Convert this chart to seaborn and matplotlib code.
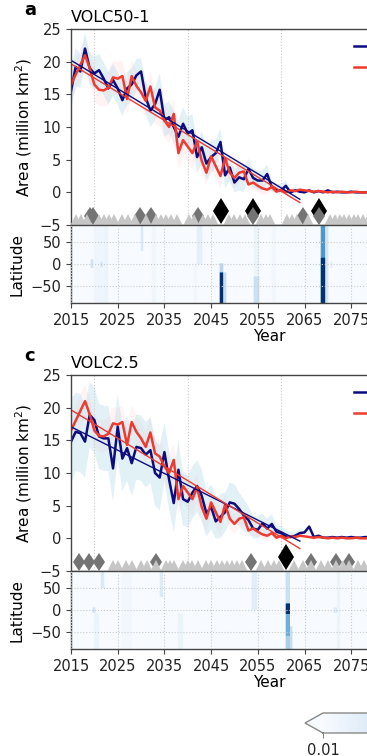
import numpy as np
import pandas as pd
import matplotlib
matplotlib.use("Agg")
import matplotlib.pyplot as plt
import seaborn as sns
from matplotlib.lines import Line2D
from matplotlib.colors import Normalize

# ---------------- data ----------------
years = list(range(2015, 2101))

blue_a = [15.5, 19.2, 18.5, 22.0, 19.0, 18.2, 18.7, 17.4, 15.9, 17.2,
          15.9, 14.1, 15.9, 16.5, 17.9, 18.5, 14.5, 12.5, 13.5, 15.7,
          11.0, 11.5, 10.0, 8.5, 10.5, 9.0, 9.5, 5.4, 6.9, 4.4,
          5.4, 6.0, 7.7, 2.6, 3.8, 1.5, 2.3, 2.0, 3.6, 2.2,
          1.8, 1.8, 2.8, 0.8, 0.3, 0.3, 1.0, 0.0, 0.3, 0.1,
          0.0, 0.3, 0.0, 0.2, 0.0, 0.3, 0.0, 0.1, 0.0, 0.0,
          0.1, 0.0, 0.0, 0.0, 0.1, 0.0, 0.0, 0.0, 0.0, 0.0,
          0.0, 0.0, 0.0, 0.0, 0.0, 0.0, 0.0, 0.0, 0.0, 0.0,
          0.0, 0.0, 0.0, 0.0, 0.0, 0.0]

blue_c = [14.8, 16.3, 16.1, 14.8, 18.9, 18.1, 15.6, 15.3, 15.3, 10.7,
          17.1, 12.2, 13.8, 11.5, 14.0, 13.8, 12.8, 13.5, 10.0, 9.3,
          13.2, 9.0, 5.4, 10.5, 6.0, 5.6, 7.0, 8.0, 6.5, 3.8,
          4.8, 2.6, 3.3, 4.0, 5.5, 5.3, 4.5, 3.5, 2.8, 1.5,
          1.3, 2.3, 1.5, 2.2, 1.0, 0.8, 0.3, 0.2, 0.4, 0.8,
          0.9, 1.8, 0.2, 0.4, 0.1, 0.1, 0.2, 0.1, 0.2, 0.1,
          0.2, 0.1, 0.1, 0.2, 0.1, 0.0, 0.0, 0.0, 0.0, 0.0,
          0.0, 0.0, 0.0, 0.0, 0.0, 0.0, 0.0, 0.0, 0.0, 0.0,
          0.0, 0.0, 0.0, 0.0, 0.0, 0.0]

red_ref = [16.5, 18.0, 19.5, 21.0, 19.0, 16.5, 15.7, 15.6, 16.0, 17.6,
           17.4, 17.8, 14.3, 17.8, 16.3, 15.3, 14.0, 16.2, 13.0, 12.5,
           11.0, 10.0, 12.0, 6.0, 8.0, 7.0, 6.0, 7.8, 4.8, 3.0,
           5.5, 4.0, 2.5, 5.2, 3.0, 2.2, 3.0, 3.2, 1.2, 1.5,
           1.0, 0.6, 0.4, 0.8, 0.1, 0.4, 0.0, 0.3, 0.2, 0.4,
           0.3, 0.2, 0.1, 0.2, 0.1, 0.0, 0.1, 0.0, 0.1, 0.0,
           0.0, 0.1, 0.0, 0.0, 0.0, 0.0, 0.0, 0.0, 0.0, 0.0,
           0.0, 0.0, 0.0, 0.0, 0.0, 0.0, 0.0, 0.0, 0.0, 0.0,
           0.0, 0.0, 0.0, 0.0, 0.0, 0.0]

# ensemble spread (half-width), 2015-2064, then zero
spread_blue_a = [3.0, 3.0, 2.5, 2.5, 2.5, 2.5, 2.5, 2.5, 2.5, 2.5,
                 2.5, 2.5, 2.5, 2.5, 2.5, 2.0, 2.5, 2.5, 2.5, 2.5,
                 2.5, 2.5, 2.5, 2.5, 2.5, 2.5, 2.5, 2.5, 2.5, 2.5,
                 2.5, 2.0, 2.0, 2.0, 2.0, 2.0, 2.0, 2.0, 1.5, 1.5,
                 1.5, 1.5, 1.5, 1.0, 1.0, 1.0, 0.8, 0.5, 0.5, 0.3] + [0.0] * 36
spread_blue_c = [6.5, 6.0, 6.0, 5.5, 5.0, 5.0, 5.0, 5.0, 5.0, 5.0,
                 5.0, 5.0, 5.0, 5.0, 5.0, 5.0, 5.0, 5.0, 5.0, 5.0,
                 4.5, 4.5, 4.5, 4.5, 4.0, 4.0, 4.0, 4.0, 4.0, 3.5,
                 3.5, 3.5, 3.5, 3.0, 3.0, 3.0, 2.5, 2.5, 2.0, 2.0,
                 2.0, 1.5, 1.5, 1.5, 1.0, 1.0, 1.0, 0.8, 0.5, 0.5] + [0.0] * 36
spread_red = [2.5, 2.5, 2.5, 2.5, 2.5, 2.5, 2.5, 2.5, 2.5, 2.5,
              2.5, 2.5, 2.5, 2.5, 2.5, 2.5, 2.5, 2.5, 2.5, 2.5,
              2.5, 2.5, 2.5, 2.5, 2.5, 2.5, 2.5, 2.0, 2.0, 2.0,
              2.0, 2.0, 2.0, 1.5, 1.5, 1.5, 1.5, 1.0, 1.0, 1.0,
              1.0, 0.8, 0.8, 0.5, 0.5, 0.5, 0.3, 0.3, 0.3, 0.3] + [0.0] * 36

fit_data_end = 2068   # years used for the linear trend
fit_show_end = 2064   # years over which the trend is drawn

# eruption markers (year positions)
light_a = [2016.0, 2017.2, 2018.4, 2021.1, 2022.1, 2023.2, 2024.3, 2026.0, 2027.1,
           2028.6, 2031.0, 2033.2, 2034.3, 2035.3, 2036.4, 2037.8, 2040.2, 2041.4,
           2043.2, 2044.3, 2045.3, 2048.9, 2050.0, 2051.1, 2052.2, 2055.7, 2056.7,
           2057.7, 2061.3, 2062.3, 2063.3, 2065.8, 2070.5, 2071.5, 2072.5, 2073.5,
           2074.5, 2075.5, 2076.5, 2077.5, 2078.5, 2080, 2081, 2082, 2083, 2085,
           2086, 2087, 2089, 2090, 2092, 2093, 2095, 2096, 2098, 2099]
dark_a = [2019.0, 2019.8, 2029.8, 2032.1, 2042.1, 2053.9, 2064.6, 2068.0]
black_a = [2047.1, 2053.9, 2068.0]

light_c = [2023.9, 2025.0, 2026.8, 2028.0, 2030.0, 2031.2, 2033.1, 2035.3, 2036.2,
           2037.1, 2038.9, 2040.0, 2041.0, 2042.1, 2043.9, 2045.0, 2046.3, 2047.4,
           2048.5, 2049.5, 2050.6, 2051.7, 2055.7, 2057.1, 2058.5, 2059.6, 2062.8,
           2064.6, 2066.4, 2068.5, 2070.0, 2071.8, 2073.2, 2074.6, 2076.4, 2077.8,
           2079, 2080, 2081, 2083, 2084, 2086, 2087, 2089, 2090, 2092, 2094, 2095,
           2097, 2099]
dark_c = [2016.8, 2018.9, 2021.1, 2033.1, 2053.5, 2066.4, 2071.8, 2074.6]
black_c = [2061.0]

# aerosol plumes for the latitude-time panels: start, duration, lat_lo, lat_hi, value
plume_start_a = [2046.8, 2046.8, 2047.6, 2068.6, 2068.6, 2069.5, 2054.2, 2054.2,
                 2019.3, 2020.0, 2021.3, 2030.0, 2032.5, 2042.0, 2058.0, 2070.5,
                 2022.0, 2041.5]
plume_dur_a = [0.8, 0.8, 0.6, 0.9, 0.9, 0.6, 1.0, 1.0,
               0.5, 2.5, 0.5, 0.5, 0.8, 1.0, 1.0, 0.5, 1.0, 0.5]
plume_lo_a = [-90, -20, -90, -90, 15, -90, -90, -30, -10, -90, -5, 30, -90, 0, -90, -10,
              -90, -90]
plume_hi_a = [-20, 0, -20, 15, 90, 90, -30, 90, 10, 90, 5, 90, 90, 90, 90, 5, 90, 0]
plume_val_a = [1.0, 0.3, 0.25, 1.0, 0.6, 0.18, 0.22, 0.07,
               0.2, 0.06, 0.15, 0.15, 0.05, 0.1, 0.04, 0.08, 0.07, 0.04]

plume_start_c = [2061.0, 2061.0, 2061.0, 2061.8, 2019.8, 2020.0, 2021.5, 2034.0,
                 2038.0, 2053.8, 2071.5, 2072.0, 2026.0, 2061.0]
plume_dur_c = [0.8, 0.8, 0.8, 0.6, 0.5, 1.0, 0.6, 0.6, 1.0, 1.0, 0.5, 0.6, 2.0, 0.8]
plume_lo_c = [-10, -60, 15, -90, -5, -90, 50, 30, -90, 0, -5, -90, -90, -90]
plume_hi_c = [15, -10, 90, -40, 5, -10, 90, 90, -10, 90, 5, 90, 90, -60]
plume_val_c = [1.0, 0.5, 0.22, 0.25, 0.2, 0.07, 0.15, 0.14, 0.07, 0.12, 0.14, 0.07,
               0.04, 0.35]

titles = ["VOLC50-1", "VOLC2.5"]
letters = ["a", "c"]
legend_labels = ["VOLC", "SSP2-4.5"]
cbar_ticks = [0.01, 0.5, 1.0]

# ---------------- style ----------------
plt.rcParams.update({
    "font.family": ["DejaVu Sans"],
    "axes.edgecolor": "#444444",
    "axes.linewidth": 1.0,
    "xtick.color": "#444444",
    "ytick.color": "#444444",
    "xtick.labelcolor": "#222222",
    "ytick.labelcolor": "#222222",
    "xtick.labelsize": 10.5,
    "ytick.labelsize": 10.5,
})

NAVY = "#0c0c7f"
RED = "#ef3a2f"

W, H = 367, 756
fig = plt.figure(figsize=(W / 100, H / 100), dpi=100)


def fx(px):
    return px / W


def fy(py):
    return 1 - py / H


ppy = 4.67
ax_left = 71
ax_width = 85 * ppy

cmap = plt.get_cmap("Blues").copy()
cmap.set_under("#f7fbff")
norm = Normalize(vmin=0.01, vmax=1.0)

panels = [
    dict(blue=blue_a, sb=spread_blue_a, light=light_a, dark=dark_a, black=black_a,
         ps=plume_start_a, pd_=plume_dur_a, plo=plume_lo_a, phi=plume_hi_a, pv=plume_val_a,
         top=29, mid=225, bot=303),
    dict(blue=blue_c, sb=spread_blue_c, light=light_c, dark=dark_c, black=black_c,
         ps=plume_start_c, pd_=plume_dur_c, plo=plume_lo_c, phi=plume_hi_c, pv=plume_val_c,
         top=375, mid=571, bot=649),
]

t_edges = np.arange(2015, 2100.01, 0.2)
lat_edges = np.arange(-90, 90.01, 2)
t_c = 0.5 * (t_edges[:-1] + t_edges[1:])
lat_c = 0.5 * (lat_edges[:-1] + lat_edges[1:])

mesh = None
for i, p in enumerate(panels):
    df = pd.DataFrame({"year": years, "blue": p["blue"], "red": red_ref,
                       "sb": p["sb"], "sr": spread_red})
    ax = fig.add_axes([fx(ax_left), fy(p["mid"]), ax_width / W, (p["mid"] - p["top"]) / H])

    ax.fill_between(df["year"], df["red"] - df["sr"], df["red"] + df["sr"],
                    color="#ffd0d4", alpha=0.25, lw=0)
    ax.fill_between(df["year"], (df["blue"] - df["sb"]).clip(lower=0), df["blue"] + df["sb"],
                    color="#add8e6", alpha=0.35, lw=0)

    sns.lineplot(data=df, x="year", y="blue", color=NAVY, lw=1.8, ax=ax)
    sns.lineplot(data=df, x="year", y="red", color=RED, lw=1.8, ax=ax)

    # linear trends
    dfit = df[df["year"] <= fit_data_end]
    show = df[df["year"] <= fit_show_end][["year"]].copy()
    for col, colr in (("blue", NAVY), ("red", RED)):
        k, b = np.polyfit(dfit["year"], dfit[col], 1)
        show[col + "_fit"] = k * show["year"] + b
        sns.lineplot(data=show, x="year", y=col + "_fit", color=colr, lw=1.0, ax=ax)

    # eruption markers
    ax.plot(p["black"], [-2.9] * len(p["black"]), ls="none", marker="d", ms=13,
            color="black", mew=0, zorder=5)
    ax.plot(p["dark"], [-3.55] * len(p["dark"]), ls="none", marker="d", ms=9.5,
            color="#747474", mew=0, zorder=6)
    ax.plot(p["light"], [-4.2] * len(p["light"]), ls="none", marker="^", ms=8,
            color="#c6c6c6", mew=0, zorder=7)

    ax.set_xlim(2015, 2100)
    ax.set_ylim(-5, 25)
    ax.set_yticks([-5, 0, 5, 10, 15, 20, 25])
    ax.set_yticks([0, 10, 20], minor=True)
    ax.set_xticks([])
    ax.set_xticks([2020, 2040, 2060, 2080], minor=True)
    ax.tick_params(axis="x", which="both", length=0, labelbottom=False)
    ax.tick_params(axis="y", which="minor", length=0)
    ax.grid(which="minor", ls=":", color="#cccccc", lw=0.8)
    ax.set_xlabel("")
    ax.set_ylabel("Area (million km$^2$)", fontsize=11)
    ax.set_title(titles[i], loc="left", fontsize=11.5, pad=5)

    handles = [Line2D([], [], color=NAVY, lw=1.8), Line2D([], [], color=RED, lw=1.8)]
    ax.legend(handles, legend_labels, loc="upper left", bbox_to_anchor=(0.713, 0.947),
              frameon=False, borderpad=0, borderaxespad=0, handlelength=2.0,
              fontsize=10, labelspacing=0.55)

    fig.text(fx(30), fy(p["top"] - 19), letters[i], fontweight="bold", fontsize=13,
             ha="center", va="center")

    # latitude-time field
    Z = np.zeros((len(lat_c), len(t_c)))
    for s, d, lo, hi, v in zip(p["ps"], p["pd_"], p["plo"], p["phi"], p["pv"]):
        tm = (t_c >= s) & (t_c < s + d)
        lm = (lat_c >= lo) & (lat_c < hi)
        Z[np.ix_(lm, tm)] = np.maximum(Z[np.ix_(lm, tm)], v)
    Zs = Z.copy()
    Zs[:, 1:] = np.maximum(Zs[:, 1:], 0.4 * Z[:, :-1])
    Zs[:, :-1] = np.maximum(Zs[:, :-1], 0.4 * Z[:, 1:])
    Zs[1:, :] = np.maximum(Zs[1:, :], 0.7 * Zs[:-1, :])

    ax2 = fig.add_axes([fx(ax_left), fy(p["bot"]), ax_width / W, (p["bot"] - p["mid"]) / H])
    mesh = ax2.pcolormesh(t_edges, lat_edges, Zs, cmap=cmap, norm=norm, shading="flat")
    ax2.set_xlim(2015, 2100)
    ax2.set_ylim(-90, 90)
    ax2.set_xticks(list(range(2015, 2100, 10)))
    ax2.set_yticks([-50, 0, 50])
    ax2.grid(ls=":", color="#cccccc", lw=0.8)
    ax2.set_axisbelow(False)
    ax2.set_ylabel("Latitude", fontsize=11)
    ax2.set_xlabel("Year", fontsize=11, labelpad=1)

# colorbar
cax = fig.add_axes([fx(305), fy(733), 378 / W, 20 / H])
cb = fig.colorbar(mesh, cax=cax, orientation="horizontal", extend="min", ticks=cbar_ticks)
cb.outline.set_edgecolor("#888888")
cb.ax.tick_params(labelsize=10.5, color="#888888")

fig.savefig("out.png", dpi=100)
